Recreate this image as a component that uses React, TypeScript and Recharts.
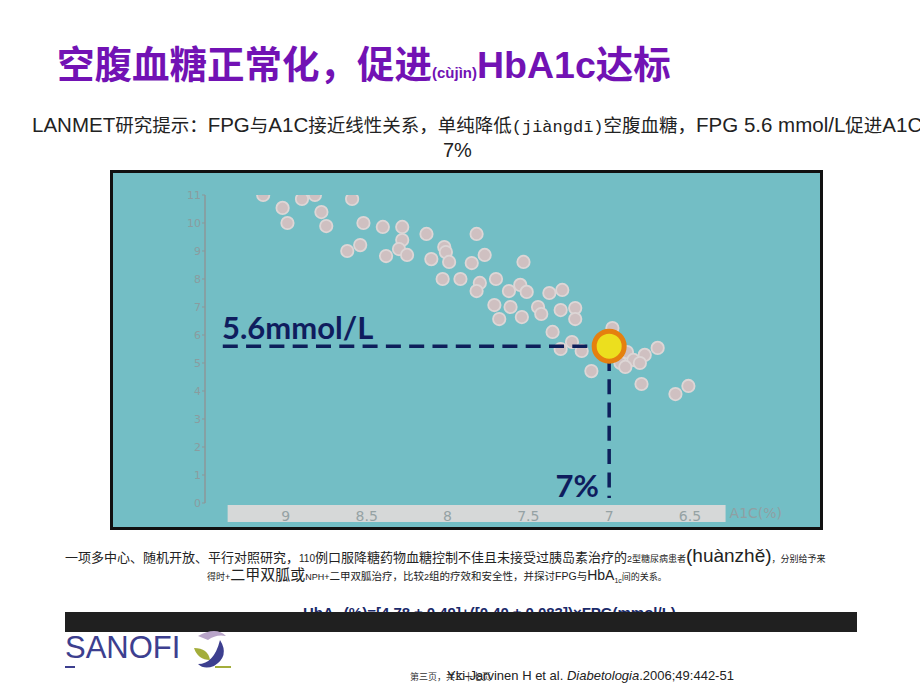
import React from 'react';
import { ScatterChart, Scatter, XAxis, YAxis, ReferenceArea } from 'recharts';

// A1C (%) and FPG (mmol/L)
const a1cValues = [
  9.14, 9.02, 8.99, 8.9, 8.82, 8.78, 8.75, 8.59, 8.52, 8.62,
  8.54, 8.4, 8.38, 8.28, 8.28, 8.3, 8.25, 8.13, 8.1, 8.02,
  8.01, 7.99, 8.03, 7.92, 7.82, 7.77, 7.85, 7.8, 7.82, 7.7,
  7.62, 7.55, 7.53, 7.51, 7.37, 7.29, 7.71, 7.61, 7.68, 7.54,
  7.44, 7.42, 7.3, 7.21, 7.21, 7.35, 6.98, 7.23, 7.3, 7.17,
  6.89, 6.93, 6.85, 6.78, 6.81, 6.9, 6.7, 7.11, 6.8, 6.59, 6.51,
];
const fpgValues = [
  11.0, 10.54, 10.0, 10.86, 11.0, 10.39, 9.89, 10.86, 10.0, 9.0,
  9.21, 9.86, 8.82, 9.86, 9.39, 9.07, 8.86, 9.61, 8.71, 9.14,
  8.96, 8.61, 8.0, 8.0, 9.61, 8.86, 8.57, 7.86, 7.57, 8.0,
  7.57, 7.79, 8.61, 7.54, 7.5, 7.61, 7.07, 7.0, 6.57, 6.64,
  7.0, 6.75, 6.89, 6.96, 6.57, 6.11, 6.25, 5.75, 5.5, 5.43,
  5.39, 5.0, 5.11, 5.29, 5.0, 4.86, 5.54, 4.71, 4.25, 3.89, 4.18,
];
const yTicks = [0, 1, 2, 3, 4, 5, 6, 7, 8, 9, 10, 11];
const xTicks = [9, 8.5, 8, 7.5, 7, 6.5];
const targetA1c = 7;
const targetFpg = 5.6;
const guideStartA1c = 9.39;
const guideEndFpg = 0.18;
const bandA1c = [6.28, 9.36];
const bandFpg = [-0.68, -0.07];

const points = a1cValues.map((a, i) => ({ a1c: a, fpg: fpgValues[i] }));
const target = [{ a1c: targetA1c, fpg: targetFpg }];
const guide = [
  { a1c: guideStartA1c, fpg: targetFpg },
  { a1c: targetA1c, fpg: targetFpg },
  { a1c: targetA1c, fpg: guideEndFpg },
];

const CJK = '"Liberation Sans", "Noto Sans CJK SC", sans-serif';

const GrayDot = (p: any) => (
  <circle cx={p.cx} cy={p.cy} r={6.2} fill="#cfc0c1" stroke="#ddd6d6" strokeWidth={1.8} />
);
const TargetDot = (p: any) => (
  <circle cx={p.cx} cy={p.cy} r={15} fill="#ecdf1e" stroke="#e5800f" strokeWidth={5} />
);
const NoDot = () => <g />;

export default function App() {
  return (
    <div style={{ position: 'absolute', left: 0, top: 0, width: 920, height: 691, overflow: 'hidden', background: '#fff', fontFamily: CJK }}>
      {/* Title */}
      <div style={{ position: 'absolute', left: 57, top: 45, whiteSpace: 'nowrap', color: '#7212b4', fontWeight: 700, fontSize: 37.5, lineHeight: '40px' }}>
        空腹血糖正常化，促进<span style={{ fontSize: 15 }}>(cùjìn)</span>HbA1c达标
      </div>
      {/* Subtitle */}
      <div style={{ position: 'absolute', left: 32, top: 113, whiteSpace: 'nowrap', color: '#222', fontSize: 20.5, lineHeight: '24px' }}>
        LANMET<span style={{ fontSize: 18.5 }}>研究提示：</span>FPG<span style={{ fontSize: 18.5 }}>与</span>A1C<span style={{ fontSize: 18.5 }}>接近线性关系，单纯降低</span><span style={{ fontSize: 17, fontFamily: '"Liberation Mono", monospace' }}>(jiàngdī)</span><span style={{ fontSize: 18.5 }}>空腹血糖，</span>FPG 5.6 mmol/L<span style={{ fontSize: 18.5 }}>促进</span>A1C
      </div>
      <div style={{ position: 'absolute', left: 443, top: 139, color: '#222', fontSize: 20, lineHeight: '22px' }}>7%</div>

      {/* Chart */}
      <div style={{ position: 'absolute', left: 110, top: 170, width: 713, height: 360, boxSizing: 'border-box', border: '3px solid #111', background: '#73bec5' }}>
        <div style={{ position: 'absolute', left: -3, top: -3 }}>
          <ScatterChart width={713} height={360} margin={{ top: 25, right: 36, bottom: 7, left: 35 }}>
            <XAxis
              type="number"
              dataKey="a1c"
              domain={[5.9, 9.5]}
              reversed
              ticks={xTicks}
              interval={0}
              axisLine={false}
              tickLine={false}
              tickSize={0}
              tickMargin={8}
              height={20}
              allowDataOverflow
              tick={{ fill: '#95a2a4', fontSize: 14, fontFamily: '"DejaVu Sans", sans-serif' }}
            />
            <YAxis
              type="number"
              dataKey="fpg"
              domain={[0, 11]}
              ticks={yTicks}
              interval={0}
              width={60}
              axisLine={{ stroke: '#8b9799', strokeWidth: 1.5 }}
              tickLine={{ stroke: '#8b9799' }}
              tickSize={3}
              tickMargin={1}
              allowDataOverflow
              tick={{ fill: '#8a9c9f', fontSize: 11, fontFamily: '"DejaVu Sans", sans-serif' }}
            />
            <ReferenceArea
              x1={bandA1c[0]}
              x2={bandA1c[1]}
              y1={bandFpg[0]}
              y2={bandFpg[1]}
              ifOverflow="visible"
              fill="#d6d8d8"
              fillOpacity={1}
              stroke="none"
              label={{ value: 'A1C(%)', position: 'right', offset: 4, fill: '#8fa0a3', fontSize: 14, fontFamily: '"DejaVu Sans", sans-serif' }}
            />
            <Scatter data={points} shape={GrayDot} isAnimationActive={false} />
            <Scatter
              data={guide}
              shape={NoDot}
              line={{ stroke: '#0e1f5b', strokeWidth: 3.5, strokeDasharray: '15 8.3' }}
              isAnimationActive={false}
            />
            <Scatter data={target} shape={TargetDot} isAnimationActive={false} />
          </ScatterChart>
        </div>
      </div>

      {/* Annotation labels */}
      <svg width={920} height={691} style={{ position: 'absolute', left: 0, top: 0, pointerEvents: 'none' }}>
        <text x={222} y={339} fill="#0f1d5e" fontSize={31} fontWeight={700} fontFamily="Lato, sans-serif">5.6mmol/L</text>
        <text x={599} y={497} textAnchor="end" fill="#0f1d5e" fontSize={31} fontWeight={700} fontFamily="Lato, sans-serif">7%</text>
      </svg>

      {/* Study description */}
      <div style={{ position: 'absolute', left: 65, top: 546, whiteSpace: 'nowrap', color: '#222', fontSize: 13, lineHeight: '20px' }}>
        一项多中心、随机开放、平行对照研究，<span style={{ fontSize: 10 }}>110</span>例口服降糖药物血糖控制不佳且未接受过胰岛素治疗的<span style={{ fontSize: 9 }}>2型糖尿病患者</span><span style={{ fontSize: 19 }}>(huànzhě)</span><span style={{ fontSize: 9 }}>，分别给予来</span>
      </div>
      <div style={{ position: 'absolute', left: 207, top: 565, whiteSpace: 'nowrap', color: '#222', fontSize: 10.5, lineHeight: '20px' }}>
        <span style={{ fontSize: 9 }}>得时+</span><span style={{ fontSize: 15 }}>二甲双胍或</span><span style={{ fontSize: 9 }}>NPH+</span>二甲双胍治疗，比较<span style={{ fontSize: 9 }}>2</span>组的疗效和安全性，并探讨FPG与<span style={{ fontSize: 14 }}>HbA</span><sub style={{ fontSize: 7 }}>1c</sub><span style={{ fontSize: 9 }}>间的关系。</span>
      </div>
      <div style={{ position: 'absolute', left: 303, top: 603, whiteSpace: 'nowrap', color: '#1a2a6a', fontSize: 15, fontWeight: 700, lineHeight: '20px' }}>
        HbA<sub style={{ fontSize: 9 }}>1c</sub>(%)=[4.78 ± 0.49]+([0.40 ± 0.083])×FPG(mmol/L)
      </div>
      <div style={{ position: 'absolute', left: 65, top: 612, width: 792, height: 20, background: '#202020' }} />

      {/* Logo */}
      <div style={{ position: 'absolute', left: 65, top: 631, whiteSpace: 'nowrap', color: '#3d3f8f', fontSize: 31, lineHeight: '34px', fontFamily: '"Liberation Sans", sans-serif' }}>SANOFI</div>
      <svg width={50} height={50} style={{ position: 'absolute', left: 186, top: 626 }}>
        <path d="M12 10 Q30 0 40 10 Q30 8 22 14 Z" fill="#b9a5c9" />
        <path d="M34 14 Q44 30 28 40 Q18 44 12 38 Q28 38 34 14 Z" fill="#3d3f8f" />
        <path d="M8 22 Q22 22 24 34 Q12 34 8 22 Z" fill="#a3ad3a" />
        <rect x={29} y={40} width={16} height={2} fill="#a3ad3a" />
      </svg>
      <div style={{ position: 'absolute', left: 65, top: 666, width: 10, height: 2, background: '#3d3f8f' }} />

      {/* Footer */}
      <div style={{ position: 'absolute', left: 410, top: 671, whiteSpace: 'nowrap', color: '#333', fontSize: 9, lineHeight: '12px' }}>第三页，共二十七页</div>
      <div style={{ position: 'absolute', left: 447, top: 668, whiteSpace: 'nowrap', color: '#222', fontSize: 13, lineHeight: '16px', fontFamily: '"Liberation Sans", sans-serif' }}>
        Yki-Jarvinen H et al. <i>Diabetologia</i>.2006;49:442-51
      </div>
    </div>
  );
}
